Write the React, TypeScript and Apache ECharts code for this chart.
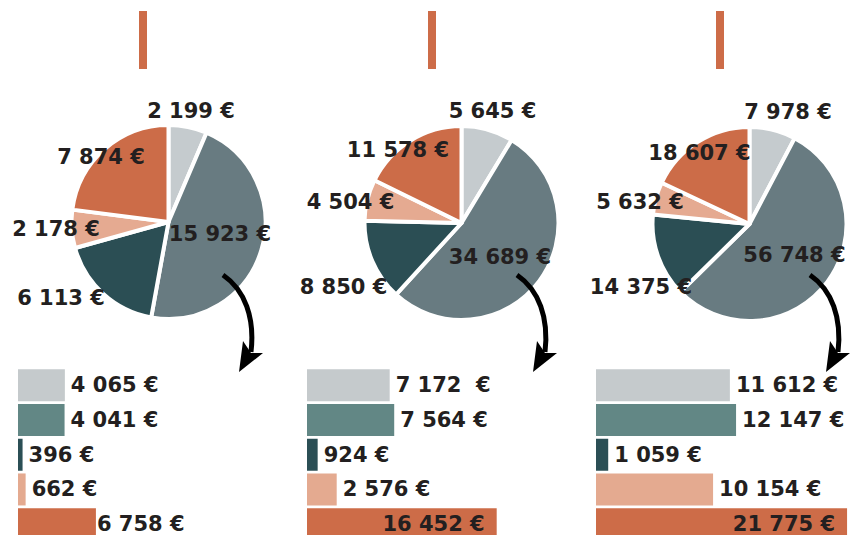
import React, { useEffect, useRef } from "react";
import * as echarts from "echarts";

// ---- data ----
const categories = ["A", "B", "C", "D", "E"];
const pie1Values = [2199, 15923, 6113, 2178, 7874];
const pie2Values = [5645, 34689, 8850, 4504, 11578];
const pie3Values = [7978, 56748, 14375, 5632, 18607];
const bar1Values = [4065, 4041, 396, 662, 6758];
const bar2Values = [7172, 7564, 924, 2576, 16452];
const bar3Values = [11612, 12147, 1059, 10154, 21775];
const bar2Labels = ["7 172  €", "7 564 €", "924 €", "2 576 €", "16 452 €"];

// ---- styles / layout ----
const pieColors = ["#c5cbce", "#687b81", "#2b4e54", "#e5aa91", "#cc6c48"];
const barColors = ["#c5cacc", "#628785", "#2b4f55", "#e4aa90", "#cd6c48"];
const textColor = "#231f20";
const FONT = "DejaVu Sans";
const pieCenters = [
  [168.5, 222],
  [461.5, 223],
  [749.5, 224],
];
const pieRadius = 97;
const pieLabelOffsets = [
  [[22.5, -111], [51.5, 12], [-107.5, 76], [-112.5, 7], [-67.5, -65]],
  [[31, -112], [38.5, 34], [-118, 64], [-111, -21], [-63.5, -73]],
  [[38.5, -112], [45, 31], [-108.5, 63], [-109.5, -22], [-50, -71]],
];
const barLefts = [18, 307, 596];
const barMax = 22000;
const barPxPerUnit = 0.01153;

const fmt = (v: number) =>
  String(v).replace(/\B(?=(\d{3})+(?!\d))/g, " ") + " €";

export default function App() {
  const ref = useRef<HTMLDivElement>(null);
  useEffect(() => {
    document.body.style.margin = "0";
    document.body.style.overflow = "hidden";
    document.documentElement.style.overflow = "hidden";
    if (!ref.current) return;
    const chart = echarts.init(ref.current, undefined, { renderer: "svg" });
    const pies = [pie1Values, pie2Values, pie3Values];
    const bars = [bar1Values, bar2Values, bar3Values];

    const series: any[] = [];
    pies.forEach((vals, p) => {
      series.push({
        type: "pie",
        center: pieCenters[p],
        radius: pieRadius,
        startAngle: 90,
        clockwise: true,
        silent: true,
        itemStyle: { borderColor: "#ffffff", borderWidth: 4 },
        label: {
          show: true,
          position: "inside",
          formatter: (pp: any) => fmt(pp.value),
          fontFamily: FONT,
          fontWeight: "bold",
          fontSize: 21,
          color: textColor,
        },
        labelLine: { show: false },
        labelLayout: (params: any) => {
          const o = pieLabelOffsets[p][params.dataIndex];
          return {
            x: pieCenters[p][0] + o[0],
            y: pieCenters[p][1] + o[1],
            align: "center",
            verticalAlign: "middle",
          };
        },
        data: vals.map((v, i) => ({
          name: categories[i],
          value: v,
          itemStyle: { color: pieColors[i] },
        })),
      });
    });

    const grids: any[] = [];
    const xAxes: any[] = [];
    const yAxes: any[] = [];
    bars.forEach((vals, b) => {
      grids.push({
        left: barLefts[b],
        top: 368,
        width: barMax * barPxPerUnit,
        height: 173.5,
        containLabel: false,
      });
      xAxes.push({ type: "value", gridIndex: b, min: 0, max: barMax, show: false });
      yAxes.push({
        type: "category",
        gridIndex: b,
        data: categories,
        inverse: true,
        show: false,
      });
      series.push({
        type: "bar",
        xAxisIndex: b,
        yAxisIndex: b,
        barWidth: 32,
        silent: true,
        label: {
          show: true,
          position: "right",
          distance: 6,
          fontFamily: FONT,
          fontWeight: "bold",
          fontSize: 21,
          color: textColor,
          formatter: (pp: any) =>
            b === 1 ? bar2Labels[pp.dataIndex] : fmt(pp.value),
        },
        data: vals.map((v, i) => {
          const item: any = { value: v, itemStyle: { color: barColors[i] } };
          if (i === 4) {
            item.label =
              b === 0
                ? { position: "right", distance: 1 }
                : { position: "insideRight", distance: 12 };
          }
          return item;
        }),
      });
    });

    const graphic: any[] = [];
    const topBarX = [139, 428, 716];
    topBarX.forEach((x) => {
      graphic.push({
        type: "rect",
        shape: { x, y: 11, width: 8, height: 58 },
        style: { fill: "#cd6c48" },
        silent: true,
      });
    });
    const arrowDx = [0, 294, 587];
    arrowDx.forEach((dx) => {
      graphic.push({
        type: "bezierCurve",
        shape: {
          x1: 223 + dx,
          y1: 275,
          cpx1: 245 + dx,
          cpy1: 290,
          cpx2: 255 + dx,
          cpy2: 318,
          x2: 251 + dx,
          y2: 352,
        },
        style: { stroke: "#000000", lineWidth: 5, fill: null, lineCap: "butt" },
        silent: true,
        z: 10,
      });
      graphic.push({
        type: "polygon",
        shape: {
          points: [
            [243 + dx, 341],
            [251 + dx, 353],
            [263 + dx, 353],
            [239 + dx, 372],
          ],
        },
        style: { fill: "#000000" },
        silent: true,
        z: 10,
      });
    });

    chart.setOption({
      animation: false,
      backgroundColor: "#ffffff",
      grid: grids,
      xAxis: xAxes,
      yAxis: yAxes,
      series,
      graphic,
    });
    return () => chart.dispose();
  }, []);
  return <div ref={ref} style={{ width: 858, height: 560 }} />;
}
